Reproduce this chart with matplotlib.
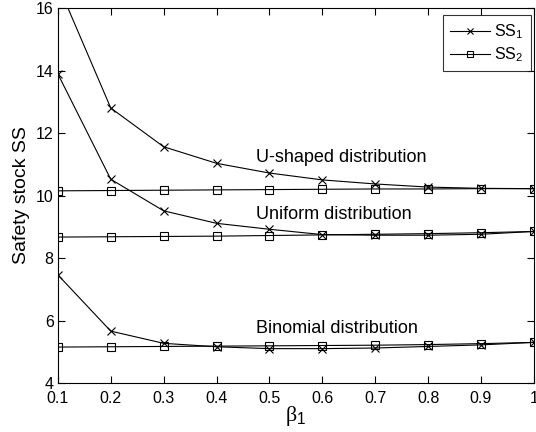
import numpy as np
import matplotlib
matplotlib.use('Agg')
import matplotlib.pyplot as plt

plt.rcParams['font.family'] = ['Liberation Sans', 'DejaVu Sans']
plt.rcParams['mathtext.fontset'] = 'custom'
plt.rcParams['mathtext.rm'] = 'Liberation Sans'
plt.rcParams['mathtext.it'] = 'Liberation Serif'

# Data
beta1 = [0.1, 0.2, 0.3, 0.4, 0.5, 0.6, 0.7, 0.8, 0.9, 1.0]

ushaped_ss1 = [16.75, 12.8, 11.56, 11.03, 10.72, 10.5, 10.37, 10.27, 10.23, 10.22]
ushaped_ss2 = [10.15, 10.16, 10.17, 10.18, 10.19, 10.2, 10.21, 10.21, 10.22, 10.22]

uniform_ss1 = [13.89, 10.52, 9.51, 9.11, 8.92, 8.75, 8.73, 8.73, 8.76, 8.85]
uniform_ss2 = [8.67, 8.68, 8.69, 8.70, 8.72, 8.74, 8.76, 8.78, 8.81, 8.85]

binomial_ss1 = [7.46, 5.66, 5.27, 5.16, 5.1, 5.1, 5.12, 5.17, 5.22, 5.3]
binomial_ss2 = [5.15, 5.16, 5.17, 5.18, 5.19, 5.2, 5.21, 5.23, 5.26, 5.3]

labels = ['U-shaped distribution', 'Uniform distribution', 'Binomial distribution']
label_pos = [(0.474, 11.23), (0.474, 9.38), (0.474, 5.76)]

# Plot
fig = plt.figure(figsize=(5.36, 4.32), dpi=100)
ax = fig.add_axes([0.108, 0.1134, 0.888, 0.868])

ms = dict(color='k', lw=0.8, markersize=6, markerfacecolor='none', markeredgewidth=0.8)
ax.plot(beta1, ushaped_ss1, marker='x', label='SS$_1$', **ms)
ax.plot(beta1, ushaped_ss2, marker='s', label='SS$_2$', **ms)
ax.plot(beta1, uniform_ss1, marker='x', **ms)
ax.plot(beta1, uniform_ss2, marker='s', **ms)
ax.plot(beta1, binomial_ss1, marker='x', **ms)
ax.plot(beta1, binomial_ss2, marker='s', **ms)

for lab, (x, y) in zip(labels, label_pos):
    ax.text(x, y, lab, fontsize=13, va='center', ha='left')

ax.set_xlim(0.1, 1.0)
ax.set_ylim(4, 16)
ax.set_xticks(beta1)
ax.set_xticklabels(['0.1', '0.2', '0.3', '0.4', '0.5', '0.6', '0.7', '0.8', '0.9', '1'])
ax.set_yticks([4, 6, 8, 10, 12, 14, 16])
ax.tick_params(direction='in', top=True, right=True, labelsize=11.5, length=5)
ax.tick_params(axis='x', pad=6)
ax.tick_params(axis='y', pad=3)
ax.set_ylabel('Safety stock SS', fontsize=14, labelpad=4)
ax.set_xlabel(r'$\beta_1$', fontsize=16, labelpad=-2)

leg = ax.legend(loc='upper right', bbox_to_anchor=(0.9937, 0.981), borderaxespad=0,
                fontsize=11.5, frameon=True, fancybox=False, edgecolor='k',
                handlelength=2.5, handletextpad=0.3, labelspacing=0.3,
                borderpad=0.45, markerscale=0.8)
leg.get_frame().set_linewidth(0.8)

fig.savefig('out.png', dpi=100)
